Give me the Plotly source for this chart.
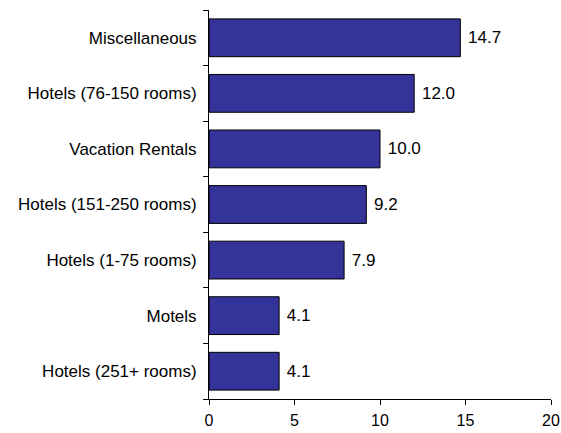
import plotly.graph_objects as go

categories = ["Hotels (251+ rooms)", "Motels", "Hotels (1-75 rooms)",
              "Hotels (151-250 rooms)", "Vacation Rentals",
              "Hotels (76-150 rooms)", "Miscellaneous"]
values = [4.1, 4.1, 7.9, 9.2, 10.0, 12.0, 14.7]
x_ticks = [0, 5, 10, 15, 20]

FONT = "Liberation Sans, Arial, sans-serif"

fig = go.Figure(go.Bar(
    x=values, y=categories, orientation="h",
    marker=dict(color="#333399", line=dict(color="black", width=1)),
    width=0.68,
    text=[f" {v:.1f}" for v in values], textposition="outside",
    textfont=dict(family=FONT, size=17, color="black"),
    cliponaxis=False,
))

fig.update_layout(
    width=561, height=433,
    margin=dict(l=209, r=10, t=10, b=34, autoexpand=False),
    paper_bgcolor="white", plot_bgcolor="white",
    font=dict(family=FONT, size=17, color="black"),
    showlegend=False,
    xaxis=dict(range=[0, 20], tickvals=x_ticks, ticks="outside", ticklen=5,
               tickcolor="black", showline=True, linecolor="black", linewidth=1,
               showgrid=False, zeroline=False, tickfont=dict(size=16),
               ticklabelstandoff=2, ticklabeloverflow="allow", automargin=False),
    yaxis=dict(categoryorder="array", categoryarray=categories,
               tickson="boundaries", ticks="outside", ticklen=5,
               tickcolor="black", showline=True, linecolor="black", linewidth=1,
               showgrid=False, zeroline=False, tickfont=dict(size=17),
               ticklabelstandoff=8, automargin=False),
)

fig.write_html("out.html")
